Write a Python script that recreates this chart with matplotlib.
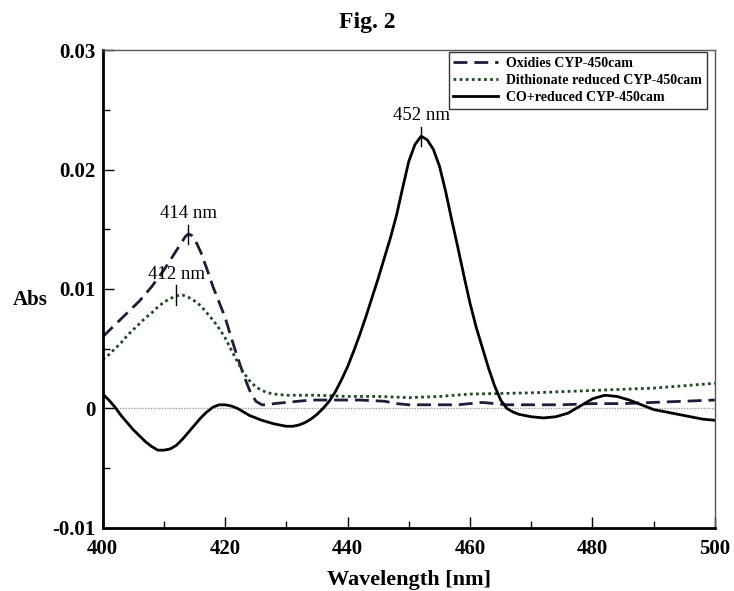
import numpy as np
import matplotlib
matplotlib.use('Agg')
from matplotlib import pyplot as plt
from matplotlib.ticker import MultipleLocator

plt.rcParams['font.family'] = ['Liberation Serif', 'DejaVu Serif']

# Oxidised CYP-450cam (dashed)
ox_wl = [400, 401, 402, 403, 404, 405, 406, 407, 408, 409, 410, 411, 412, 413, 413.5, 414,
         414.5, 415, 416, 417, 418, 419, 420, 421, 422, 423, 424, 425, 426, 427, 428, 430,
         432, 434, 438, 442, 446, 448, 450, 454, 458, 460, 462, 464, 466, 470, 475, 480,
         485, 490, 495, 500]
ox_abs = [0.0060, 0.0065, 0.0070, 0.0075, 0.0080, 0.0085, 0.0090, 0.0096, 0.0102, 0.0109,
          0.0116, 0.0124, 0.0132, 0.0140, 0.0144, 0.0146, 0.0145, 0.0142, 0.0131, 0.0117,
          0.0102, 0.0089, 0.0076, 0.0059, 0.0043, 0.0028, 0.0015, 0.0006, 0.0003, 0.0003,
          0.0004, 0.0005, 0.0006, 0.0007, 0.0007, 0.0007, 0.0006, 0.0004, 0.0003, 0.0003,
          0.0003, 0.0004, 0.0005, 0.0004, 0.0003, 0.0003, 0.0003, 0.0004, 0.0004, 0.0005,
          0.0006, 0.0007]

# Dithionate reduced CYP-450cam (dotted)
red_wl = [400, 401, 402, 403, 404, 405, 406, 407, 408, 409, 410, 411, 412, 412.5, 413, 414,
          415, 416, 417, 418, 419, 420, 421, 422, 423, 424, 425, 426, 427, 428, 430, 432,
          435, 440, 445, 450, 455, 460, 470, 480, 490, 500]
red_abs = [0.0041, 0.0045, 0.0050, 0.0055, 0.0061, 0.0066, 0.0071, 0.0076, 0.0080, 0.0085,
           0.0089, 0.0092, 0.0094, 0.0095, 0.0095, 0.0093, 0.0090, 0.0086, 0.0080, 0.0074,
           0.0067, 0.0059, 0.0049, 0.0039, 0.0030, 0.0023, 0.0018, 0.0015, 0.0013, 0.0012,
           0.0011, 0.0011, 0.0011, 0.0010, 0.0010, 0.0009, 0.0010, 0.0012, 0.0013, 0.0015,
           0.0017, 0.0021]

# CO + reduced CYP-450cam (solid)
co_wl = [400, 401, 402, 403, 404, 405, 406, 407, 408, 409, 410, 411, 412, 413, 414, 415,
         416, 417, 418, 419, 420, 421, 422, 423, 424, 426, 428, 430, 431, 432, 433, 434,
         435, 436, 437, 438, 439, 440, 441, 442, 443, 444, 445, 446, 447, 448, 449, 450,
         451, 452, 453, 454, 455, 456, 457, 458, 459, 460, 461, 462, 463, 464, 465, 466,
         467, 468, 470, 472, 474, 476, 478, 480, 482, 484, 486, 488, 490, 492, 494, 496,
         498, 500]
co_abs = [0.0012, 0.0007, 0.0001, -0.0006, -0.0012, -0.0018, -0.0023, -0.0028, -0.0032,
          -0.0035, -0.0035, -0.0034, -0.0031, -0.0026, -0.0020, -0.0014, -0.0008, -0.0003,
          0.0001, 0.0003, 0.0003, 0.0002, 0.0000, -0.0003, -0.0006, -0.0010, -0.0013,
          -0.0015, -0.0015, -0.0014, -0.0012, -0.0009, -0.0005, 0.0000, 0.0006, 0.0014,
          0.0024, 0.0035, 0.0048, 0.0062, 0.0077, 0.0093, 0.0109, 0.0126, 0.0143, 0.0162,
          0.0185, 0.0207, 0.0221, 0.0228, 0.0225, 0.0217, 0.0203, 0.0182, 0.0158, 0.0135,
          0.0111, 0.0088, 0.0068, 0.0051, 0.0034, 0.0019, 0.0007, 0.0000, -0.0003, -0.0005,
          -0.0007, -0.0008, -0.0007, -0.0004, 0.0002, 0.0008, 0.0011, 0.0010, 0.0007, 0.0003,
          -0.0001, -0.0003, -0.0005, -0.0007, -0.0009, -0.0010]

labels = ['Oxidies CYP-450cam', 'Dithionate reduced CYP-450cam', 'CO+reduced CYP-450cam']
peaks = [(414, 0.0146, '414 nm'), (412, 0.0095, '412 nm'), (452, 0.0228, '452 nm')]

fig = plt.figure(figsize=(7.34, 5.91), dpi=100)
ax = fig.add_axes([0.140, 0.107, 0.834, 0.808])

ax.axhline(0, color='#a0a0a0', lw=1.0, ls=(0, (1, 1)), zorder=1)
ax.plot(ox_wl, ox_abs, color='#1c1c3c', lw=2.0, ls=(0, (5, 2.5)), label=labels[0])
ax.plot(red_wl, red_abs, color='#1e4a22', lw=2.0, ls=(0, (1, 1.2)), label=labels[1])
ax.plot(co_wl, co_abs, color='black', lw=2.0, label=labels[2])

# peak markers
for x, y, txt in peaks:
    ax.plot([x, x], [y - 0.0008, y + 0.0008], color='black', lw=1.0)
    ax.text(x, y + 0.001, txt, ha='center', va='bottom', fontsize=13.5)

ax.set_xlim(400, 500)
ax.set_ylim(-0.01, 0.03)
ax.xaxis.set_major_locator(MultipleLocator(20))
ax.xaxis.set_minor_locator(MultipleLocator(10))
ax.yaxis.set_minor_locator(MultipleLocator(0.005))
ax.set_yticks([-0.01, 0, 0.01, 0.02, 0.03])
ax.set_yticklabels(['-0.01', '0', '0.01', '0.02', '0.03'])
ax.tick_params(which='both', direction='in', top=False, right=False, labelsize=15)
ax.tick_params(which='major', length=8, width=1)
ax.tick_params(which='minor', length=5, width=1)
ax.tick_params(axis='x', which='major', pad=8)
ax.tick_params(axis='y', which='major', pad=5)
for lab in ax.get_xticklabels() + ax.get_yticklabels():
    lab.set_fontweight('bold')

for s in ['left', 'bottom']:
    ax.spines[s].set_linewidth(2.0)
for s in ['top', 'right']:
    ax.spines[s].set_linewidth(1.0)
    ax.spines[s].set_color('#555555')

ax.set_xlabel('Wavelength [nm]', fontsize=16, fontweight='bold', labelpad=8)
ax.set_ylabel('Abs', fontsize=15, fontweight='bold', rotation=0, va='center', ha='center')
ax.yaxis.set_label_coords(-0.118, 0.477)
fig.text(0.5, 0.962, 'Fig. 2', ha='center', va='center', fontsize=17, fontweight='bold')

leg = ax.legend(loc='upper right', prop={'weight': 'bold', 'size': 10},
                frameon=True, fancybox=False, edgecolor='black', handlelength=3.2,
                handletextpad=0.6, borderpad=0.35, labelspacing=0.28, borderaxespad=0,
                bbox_to_anchor=(0.987, 0.996))
leg.get_frame().set_linewidth(1.0)

fig.savefig('out.png', dpi=100)
